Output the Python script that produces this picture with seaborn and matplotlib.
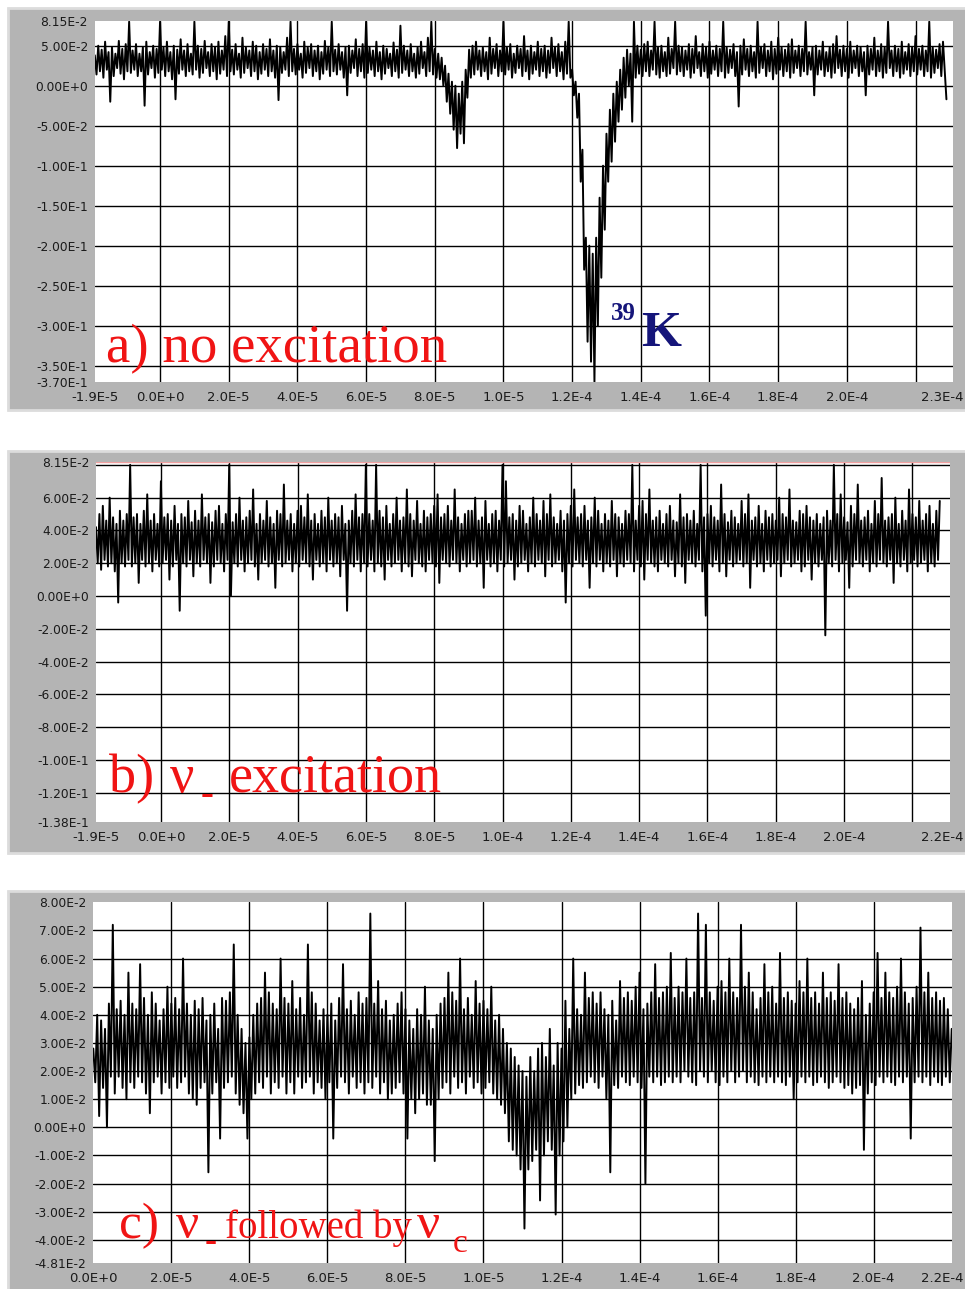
import numpy as np
import matplotlib
matplotlib.use("Agg")
import matplotlib.pyplot as plt
from matplotlib.patches import Rectangle
from matplotlib.transforms import ScaledTranslation
import seaborn as sns

# ---------------- data: signal in units of 1e-3, one sample every 0.5 microsecond ----------
start_a_us = -19.0
signal_a_milli = [
    38, 14, 50, 18, 45, 10, 55, 20, 42, -20, 48, 12, 40, 22, 56, 15, 46, 8, 52, 18,
    80, 16, 44, 20, 52, 12, 40, 18, 48, -25, 55, 14, 42, 22, 50, 10, 46, 16, 80, 20,
    48, 12, 55, 18, 42, 8, 50, -17, 45, 15, 58, 20, 44, 12, 52, 18, 40, 14, 80, 20,
    50, 10, 46, 16, 56, 22, 42, 12, 52, 18, 48, 8, 55, 15, 44, 20, 62, 12, 80, 18,
    45, 14, 52, 20, 40, 10, 60, 16, 48, 22, 44, 12, 55, 18, 50, 8, 42, 15, 52, 20,
    46, 12, 58, 18, 44, 10, 50, -18, 48, 16, 42, 20, 60, 12, 80, 18, 46, 14, 52, 20,
    40, 10, 55, 16, 48, 22, 52, 12, 44, 18, 50, 8, 42, 15, 56, 20, 48, 12, 80, 18,
    45, 14, 52, 20, 42, 10, 48, -12, 50, 16, 44, 22, 58, 12, 46, 18, 52, 10, 80, 16,
    48, 20, 44, 12, 55, 18, 42, 8, 50, 15, 46, 22, 40, 12, 54, 18, 45, 10, 75, 16,
    50, 20, 44, 12, 52, 18, 40, 10, 48, 15, 55, 22, 42, 12, 60, 18, 80, 14, 46, 10,
    40, 8, 35, 0, 25, -20, 15, -35, 5, -55, 0, -78, -10, -60, 5, -72, 20, -15, 45, 10,
    50, 14, 55, 20, 44, 12, 48, 18, 42, 8, 60, 15, 46, 22, 52, 12, 44, 18, 80, 14,
    48, 20, 52, 10, 40, 16, 50, 22, 46, 12, 62, 18, 44, 8, 50, 15, 42, 20, 55, 12,
    46, 18, 50, 10, 44, 16, 60, 22, 48, 12, 52, 18, 42, 8, 55, 15, 80, 10, 20, -12,
    5, -40, -10, -120, -80, -230, -190, -320, -200, -345, -210, -370, -190, -300, -140, -240, -100, -180, -60, -120,
    -30, -95, -10, -70, 5, -45, 20, -30, 35, -15, 45, 0, 40, -45, 80, 10, 50, 15, 45, 12,
    52, 18, 55, 12, 44, 20, 80, 14, 48, 10, 50, 18, 42, 12, 60, 15, 46, 22, 80, 14,
    50, 18, 48, 12, 44, 20, 52, 10, 46, 16, 62, 22, 42, 12, 52, 18, 48, 10, 55, 15,
    44, 20, 50, 12, 46, 18, 80, 10, 48, 16, 45, 22, 52, 12, 42, -26, 50, 14, 58, 20,
    46, 12, 50, 18, 42, 10, 80, 16, 48, 22, 52, 12, 44, 18, 55, 8, 46, 15, 60, 20,
    48, 12, 45, 18, 52, 10, 58, 16, 44, 22, 50, 12, 46, 18, 80, 14, 42, 20, 48, -12,
    50, 14, 44, 20, 55, 12, 42, 18, 48, 10, 52, 16, 62, 22, 45, 12, 50, 18, 46, 10,
    55, 16, 44, 22, 50, 12, 48, 18, 42, -12, 50, 14, 46, 20, 60, 12, 44, 18, 52, 10,
    48, 16, 80, 22, 44, 12, 50, 18, 46, 10, 55, 15, 42, 20, 52, 12, 48, 18, 62, 14,
    46, 20, 50, 12, 44, 18, 80, 10, 48, 16, 45, 22, 52, 12, 55, 18, -17,
]

start_b_us = -19.0
signal_b_milli = [
    42, 20, 50, 16, 55, 22, 46, 18, 60, 20, 48, 15, 44, -4, 52, 20, 46, 18, 50, 22,
    80, 18, 48, 20, 50, 8, 44, 22, 52, 18, 62, 20, 46, 15, 50, 22, 44, 18, 70, 20,
    48, 22, 50, 10, 46, 18, 55, 22, 44, -9, 50, 20, 48, 18, 58, 22, 45, 12, 52, 20,
    46, 18, 62, 22, 48, 20, 50, 8, 45, 18, 52, 22, 55, 20, 44, 15, 50, 22, 80, 0,
    45, 20, 50, 18, 60, 22, 46, 15, 48, 20, 52, 22, 65, 18, 44, 10, 50, 20, 46, 22,
    58, 18, 48, 20, 44, 5, 52, 22, 50, 18, 68, 20, 46, 22, 50, 15, 44, 20, 52, 18,
    55, 22, 48, 20, 62, 18, 46, 10, 50, 22, 44, 18, 52, 20, 48, 15, 60, 22, 46, 18,
    50, 20, 48, 12, 55, 22, 44, -9, 46, 20, 52, 18, 62, 22, 48, 15, 50, 20, 80, 18,
    50, 22, 46, 15, 80, 20, 52, 18, 48, 10, 55, 22, 44, 18, 50, 20, 60, 22, 46, 15,
    48, 20, 65, 18, 50, 12, 46, 22, 58, 20, 44, 18, 52, 15, 48, 22, 50, 20, 55, 18,
    62, 8, 48, 22, 50, 20, 55, 18, 46, 22, 65, 20, 48, 15, 44, 22, 50, 18, 52, 20,
    52, 22, 60, 18, 46, 20, 48, 5, 58, 22, 44, 18, 50, 20, 52, 15, 46, 22, 80, 18,
    70, 20, 48, 22, 50, 10, 46, 18, 55, 20, 52, 22, 44, 15, 48, 20, 60, 18, 50, 22,
    46, 20, 58, 12, 50, 22, 62, 18, 48, 20, 44, 22, 52, 15, 46, -4, 50, 20, 55, 18,
    65, 22, 48, 20, 50, 18, 55, 22, 46, 5, 48, 20, 60, 18, 52, 22, 44, 15, 50, 20,
    46, 18, 58, 22, 50, 12, 48, 20, 44, 18, 52, 22, 50, 20, 80, 15, 46, 22, 55, 18,
    58, 10, 50, 22, 65, 20, 46, 18, 48, 15, 52, 22, 44, 20, 50, 18, 55, 22, 46, 12,
    45, 20, 62, 18, 48, 8, 50, 22, 46, 20, 52, 18, 44, 22, 80, 15, 48, -12, 50, 20,
    55, 18, 48, 22, 46, 15, 68, 20, 50, 12, 45, 22, 52, 18, 48, 20, 44, 22, 58, 18,
    50, 20, 62, 5, 46, 22, 48, 18, 55, 20, 44, 15, 52, 22, 48, 18, 50, 20, 46, 22,
    60, 12, 50, 20, 48, 22, 65, 18, 46, 20, 45, 22, 52, 15, 50, 18, 55, 22, 48, 10,
    46, 20, 50, 18, 44, 22, 48, -24, 52, 20, 46, 18, 80, 22, 50, 15, 62, 20, 48, 22,
    45, 5, 55, 18, 50, 22, 68, 20, 46, 18, 48, 22, 52, 15, 44, 20, 58, 18, 50, 22,
    72, 20, 46, 18, 48, 22, 50, 8, 60, 20, 44, 18, 52, 22, 46, 15, 65, 20, 50, 22,
    48, 18, 58, 20, 46, 22, 50, 15, 55, 20, 44, 18, 52, 22, 58,
]

start_c_us = 0.0
signal_c_milli = [
    28, 16, 40, 4, 38, 14, 35, 0, 44, 18, 72, 12, 42, 18, 45, 14, 40, 10, 55, 16,
    44, 14, 42, 18, 58, 16, 46, 12, 40, 5, 48, 16, 44, 18, 38, 12, 42, 16, 50, 14,
    44, 18, 46, 14, 42, 16, 60, 18, 44, 12, 40, 10, 45, 8, 42, 14, 46, 16, 38, -16,
    40, 12, 44, 16, 35, -4, 46, 14, 45, 16, 48, 18, 65, 12, 40, 8, 35, 5, 30, -4,
    32, 10, 40, 12, 44, 16, 46, 14, 55, 18, 48, 12, 44, 16, 42, 14, 60, 18, 46, 12,
    44, 16, 52, 12, 42, 18, 46, 14, 40, 16, 65, 18, 48, 12, 44, 16, 38, 14, 42, 10,
    40, 16, 44, -4, 38, 14, 46, 18, 58, 16, 42, 12, 45, 18, 40, 14, 48, 16, 44, 12,
    46, 16, 76, 14, 44, 18, 52, 12, 42, 16, 45, 10, 38, 12, 40, 14, 44, 16, 48, 12,
    42, -4, 38, 10, 35, 5, 42, 10, 40, 12, 50, 8, 38, 8, 35, -12, 40, 10, 44, 14,
    46, 16, 55, 12, 48, 18, 45, 14, 60, 16, 42, 12, 46, 18, 40, 14, 52, 16, 44, 12,
    45, 14, 42, 16, 50, 12, 38, 10, 40, 8, 35, 5, 30, -5, 28, -8, 25, -10, 22, -15,
    20, -36, 18, -15, 25, -12, 20, -8, 28, -26, 30, -10, 25, -5, 35, -8, 22, -31, 30, -10,
    28, -5, 45, 0, 35, 10, 60, 12, 42, 15, 40, 14, 55, 16, 46, 18, 48, 16, 44, 14,
    48, 18, 42, 10, 40, -16, 45, 15, 38, 14, 52, 18, 46, 16, 48, 15, 45, 18, 50, 16,
    55, 14, 42, -20, 44, 18, 48, 16, 58, 18, 46, 15, 48, 16, 50, 18, 62, 16, 46, 18,
    50, 16, 48, 20, 60, 18, 46, 16, 48, 15, 76, 20, 46, 18, 72, 16, 48, 20, 45, 16,
    50, 15, 52, 18, 48, 16, 60, 20, 48, 16, 46, 18, 72, 20, 50, 16, 55, 18, 48, 16,
    42, 15, 46, 18, 58, 16, 48, 18, 50, 16, 44, 18, 62, 16, 46, 15, 48, 18, 45, 10,
    44, 16, 52, 18, 48, 16, 60, 18, 46, 15, 48, 16, 44, 18, 55, 16, 46, 14, 48, 16,
    45, 18, 58, 16, 46, 14, 48, 15, 44, 12, 42, 14, 46, 15, 52, -8, 40, 12, 44, 16,
    48, 15, 62, 18, 46, 16, 55, 18, 48, 16, 46, 15, 50, 18, 60, 16, 48, 18, 44, -4,
    46, 16, 50, 18, 71, 16, 48, 18, 55, 15, 46, 18, 48, 16, 45, 15, 46, 18, 42, 16,
    35,
]
SAMPLE_STEP_US = 0.5

# ---------------- tick values and labels ----------------
a_xmajor_us = [0, 20, 40, 60, 80, 100, 120, 140, 160, 180, 200, 220]
a_xmajor_labels = ["0.0E+0", "2.0E-5", "4.0E-5", "6.0E-5", "8.0E-5", "1.0E-5",
                   "1.2E-4", "1.4E-4", "1.6E-4", "1.8E-4", "2.0E-4", ""]
a_xedge_us = [-19, 231]
a_xedge_labels = ["-1.9E-5", "2.3E-4"]
a_ymajor = [0.05, 0.0, -0.05, -0.10, -0.15, -0.20, -0.25, -0.30, -0.35]
a_ymajor_labels = ["5.00E-2", "0.00E+0", "-5.00E-2", "-1.00E-1", "-1.50E-1",
                   "-2.00E-1", "-2.50E-1", "-3.00E-1", "-3.50E-1"]
a_yedge = [0.0815, -0.37]
a_yedge_labels = ["8.15E-2", "-3.70E-1"]

b_xmajor_us = [0, 20, 40, 60, 80, 100, 120, 140, 160, 180, 200, 220]
b_xmajor_labels = ["0.0E+0", "2.0E-5", "4.0E-5", "6.0E-5", "8.0E-5", "1.0E-4",
                   "1.2E-4", "1.4E-4", "1.6E-4", "1.8E-4", "2.0E-4", ""]
b_xedge_us = [-19, 231]
b_xedge_labels = ["-1.9E-5", "2.2E-4"]
b_ymajor = [0.08, 0.06, 0.04, 0.02, 0.0, -0.02, -0.04, -0.06, -0.08, -0.10, -0.12]
b_ymajor_labels = ["", "6.00E-2", "4.00E-2", "2.00E-2", "0.00E+0", "-2.00E-2",
                   "-4.00E-2", "-6.00E-2", "-8.00E-2", "-1.00E-1", "-1.20E-1"]
b_yedge = [0.0815, -0.138]
b_yedge_labels = ["8.15E-2", "-1.38E-1"]

c_xmajor_us = [20, 40, 60, 80, 100, 120, 140, 160, 180, 200]
c_xmajor_labels = ["2.0E-5", "4.0E-5", "6.0E-5", "8.0E-5", "1.0E-5",
                   "1.2E-4", "1.4E-4", "1.6E-4", "1.8E-4", "2.0E-4"]
c_xedge_us = [0, 220]
c_xedge_labels = ["0.0E+0", "2.2E-4"]
c_ymajor = [0.07, 0.06, 0.05, 0.04, 0.03, 0.02, 0.01, 0.0, -0.01, -0.02, -0.03, -0.04]
c_ymajor_labels = ["7.00E-2", "6.00E-2", "5.00E-2", "4.00E-2", "3.00E-2", "2.00E-2",
                   "1.00E-2", "0.00E+0", "-1.00E-2", "-2.00E-2", "-3.00E-2", "-4.00E-2"]
c_yedge = [0.08, -0.0481]
c_yedge_labels = ["8.00E-2", "-4.81E-2"]

# ---------------- figure ----------------
W, H = 965, 1289
sns.set_style("white")
plt.rcParams["font.family"] = ["DejaVu Sans"]
fig = plt.figure(figsize=(W / 100, H / 100), dpi=100)
fig.patch.set_facecolor("white")

FRAME = "#b4b4b4"
for (y0, y1) in [(8, 410), (451, 853), (891, 1292)]:
    fig.add_artist(Rectangle((8 / W, 1 - y1 / H), (W - 8) / W + 0.01, (y1 - y0) / H,
                             transform=fig.transFigure, facecolor=FRAME,
                             edgecolor="#dcdcdc", linewidth=2.0, zorder=-5))


def make_axes(px_left, px_right, px_top, px_bottom):
    return fig.add_axes([px_left / W, 1 - px_bottom / H,
                         (px_right - px_left) / W, (px_bottom - px_top) / H])


def style_panel(ax, start_us, sig_milli, xlim_us, ylim,
                xmaj, xmaj_lab, xedge, xedge_lab, ymaj, ymaj_lab, yedge, yedge_lab):
    y = np.asarray(sig_milli, dtype=float) * 1e-3
    t = (start_us + SAMPLE_STEP_US * np.arange(len(y))) * 1e-6
    sns.lineplot(x=t, y=y, ax=ax, color="black", linewidth=1.4,
                 estimator=None, sort=False, zorder=3)
    ax.set_xlim(xlim_us[0] * 1e-6, xlim_us[1] * 1e-6)
    ax.set_ylim(*ylim)
    ax.set_xticks(np.asarray(xmaj) * 1e-6, xmaj_lab)
    ax.set_xticks(np.asarray(xedge) * 1e-6, xedge_lab, minor=True)
    ax.set_yticks(ymaj, ymaj_lab)
    ax.set_yticks(yedge, yedge_lab, minor=True)
    ax.tick_params(axis="both", which="both", direction="out", length=3.5,
                   width=1.0, color="#333333", labelcolor="#1a1a1a")
    ax.tick_params(axis="x", which="both", labelsize=9.5, pad=3)
    ax.tick_params(axis="y", which="both", labelsize=8.8, pad=1.5)
    ax.grid(True, which="major", color="black", linewidth=1.0, zorder=1)
    ax.grid(False, which="minor")
    ax.set_axisbelow(True)
    for s in ax.spines.values():
        s.set_visible(False)
    ax.set_facecolor("white")
    ax.set_xlabel("")
    ax.set_ylabel("")
    # right-edge label: keep it inside the picture (ends near the right border)
    last = ax.get_xticklabels(minor=True)[-1]
    last.set_horizontalalignment("right")
    shift_px = 963 - (ax.get_position().x1 * W)
    last.set_transform(last.get_transform() +
                       ScaledTranslation(shift_px / 100, 0, fig.dpi_scale_trans))


ax_a = make_axes(94.8, 953.3, 20.5, 381.7)
style_panel(ax_a, start_a_us, signal_a_milli, (-19, 231), (-0.37, 0.0815),
            a_xmajor_us, a_xmajor_labels, a_xedge_us, a_xedge_labels,
            a_ymajor, a_ymajor_labels, a_yedge, a_yedge_labels)

ax_b = make_axes(96.0, 950.0, 462.4, 822.2)
style_panel(ax_b, start_b_us, signal_b_milli, (-19, 231), (-0.138, 0.0815),
            b_xmajor_us, b_xmajor_labels, b_xedge_us, b_xedge_labels,
            b_ymajor, b_ymajor_labels, b_yedge, b_yedge_labels)
ax_b.axhline(0.0815, color="#f0a0a0", linewidth=1.0, zorder=2)

ax_c = make_axes(93.3, 951.7, 902.3, 1262.6)
style_panel(ax_c, start_c_us, signal_c_milli, (0, 220), (-0.0481, 0.08),
            c_xmajor_us, c_xmajor_labels, c_xedge_us, c_xedge_labels,
            c_ymajor, c_ymajor_labels, c_yedge, c_yedge_labels)

# ---------------- annotations ----------------
RED = "#f01414"
NAVY = "#15157a"
SERIF = ["Liberation Serif", "DejaVu Serif"]


def ptext(x, y, s, **kw):
    fig.text(x / W, 1 - y / H, s, ha="left", va="baseline", family=SERIF,
             zorder=10, **kw)


ptext(106, 362, "a) no excitation", fontsize=39.5, color=RED)
ptext(611, 320, "39", fontsize=18, color=NAVY, fontweight="bold")
ptext(641, 346, "K", fontsize=37, color=NAVY, fontweight="bold")

ptext(109, 792, "b)", fontsize=39, color=RED)
ptext(170, 792, "\u03bd", fontsize=39, color=RED)
ptext(201, 805, "-", fontsize=28, color=RED, fontweight="bold")
ptext(229, 792, "excitation", fontsize=39, color=RED)

ptext(119, 1238, "c)", fontsize=37, color=RED)
ptext(176, 1238, "\u03bd", fontsize=37, color=RED)
ptext(205, 1251, "-", fontsize=26, color=RED, fontweight="bold")
ptext(225, 1238, "followed by", fontsize=28, color=RED)
ptext(417, 1238, "\u03bd", fontsize=37, color=RED)
ptext(453, 1252, "c", fontsize=24, color=RED)

fig.savefig("out.png", dpi=100)
